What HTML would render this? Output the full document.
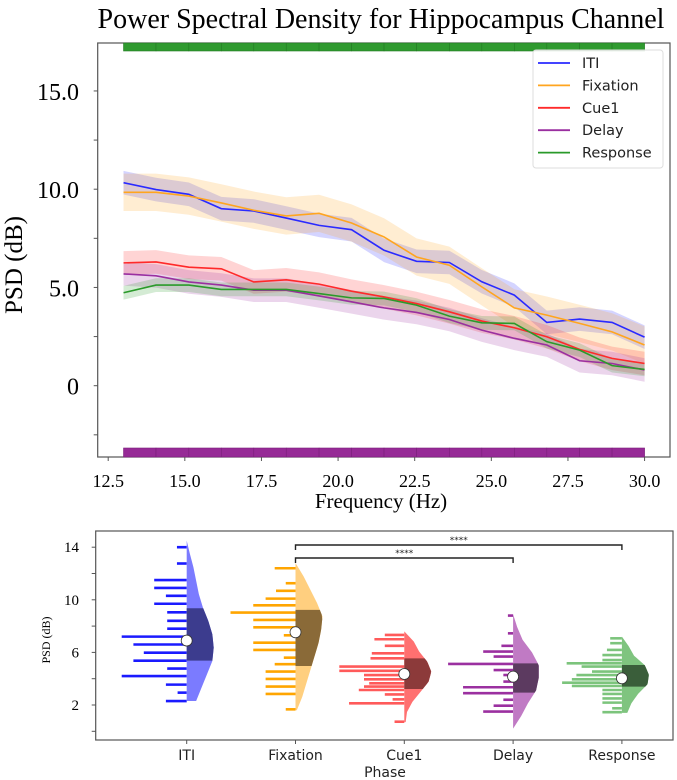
<!DOCTYPE html>
<html><head><meta charset="utf-8"><style>
html,body{margin:0;padding:0;background:#fff;}
svg{display:block;}
</style></head><body>
<svg id="root" width="677" height="780" viewBox="0 0 677 780" xmlns="http://www.w3.org/2000/svg">
<text x="381" y="28" text-anchor="middle" font-family="Liberation Serif, serif" font-size="28">Power Spectral Density for Hippocampus Channel</text>
<g id="topchart"></g>
<g id="botchart"></g>
</svg>
<script>
// ---------- Top chart data ----------
const freqs = [13.0,14.06,15.13,16.19,17.25,18.31,19.38,20.44,21.5,22.56,23.63,24.69,25.75,26.81,27.88,28.94,30.0];
const seriesNames = ['ITI','Fixation','Cue1','Delay','Response'];
const itiVals = [10.33,9.98,9.74,9.01,8.89,8.53,8.16,7.94,6.89,6.33,6.27,5.29,4.61,3.22,3.39,3.22,2.47];
const fixVals = [9.84,9.84,9.65,9.30,8.93,8.64,8.77,8.28,7.57,6.55,6.13,5.03,3.96,3.59,3.17,2.74,2.07];
const cueVals = [6.25,6.30,6.03,5.95,5.28,5.39,5.17,4.81,4.52,4.18,3.76,3.29,2.95,2.49,1.85,1.39,1.13];
const delayVals = [5.69,5.59,5.28,5.12,4.86,4.86,4.57,4.27,3.96,3.73,3.37,2.83,2.41,2.07,1.27,1.13,0.80];
const respVals = [4.73,5.12,5.12,4.90,4.90,4.90,4.69,4.47,4.44,4.10,3.54,3.20,3.17,2.24,1.81,1.02,0.83];
const bandHalf = [0.6,0.95,0.6,0.6,0.35];
const xTicks = [12.5,15.0,17.5,20.0,22.5,25.0,27.5,30.0];
const yTicks = [-2.5,0,2.5,5,7.5,10,12.5,15];
const yTickLabels = {'0':'0','5':'5.0','10':'10.0','15':'15.0'};

// ---------- Bottom chart data ----------
const phases = ['ITI','Fixation','Cue1','Delay','Response'];
const medians = [6.9,7.53,4.36,4.16,4.03];
const q1s = [5.37,4.97,3.22,2.94,3.40];
const q3s = [9.36,9.23,5.55,5.17,5.04];
const kdeLo = [2.3,1.6,0.7,0.2,1.4];
const kdeHi = [14.5,12.8,7.6,8.9,7.2];
const kdeITI = [0.35,0.55,0.75,0.95,1.0,0.95,0.8,0.6,0.45,0.35,0.25,0.12,0.0];
const kdeFix = [0.05,0.25,0.4,0.55,0.7,0.85,0.95,1.0,0.8,0.55,0.3,0.0];
const kdeCue = [0.05,0.1,0.3,0.6,0.9,1.0,0.85,0.55,0.35,0.0];
const kdeDelay = [0.0,0.3,0.55,0.85,0.95,0.95,0.7,0.35,0.15,0.0];
const kdeResp = [0.2,0.35,0.6,0.95,1.0,0.85,0.45,0.25,0.0];
const rainITI = [14,12.76,11.5,10.9,10.3,9.7,9.05,8.4,7.8,7.2,6.6,5.98,5.37,4.77,4.2,3.55,2.94,2.3];
const rainITIw = [0.15,0.15,0.5,0.5,0.32,0.5,0.3,0.3,0.3,1.0,0.82,0.66,0.82,0.3,1.0,0.32,0.14,0.32];
const rainFix = [12.4,11.26,10.68,10.09,9.58,9.03,8.47,7.91,7.3,6.74,6.19,5.6,5.1,4.54,3.98,3.4,2.84,1.67];
const rainFixw = [0.32,0.15,0.3,0.46,0.65,1.0,0.65,0.65,0.18,0.65,0.65,0.18,0.32,0.46,0.46,0.46,0.46,0.15];
const rainCue = [7.33,7.0,6.5,5.93,5.55,4.92,4.6,4.28,3.95,3.65,3.4,3.14,2.8,2.43,2.13,0.73];
const rainCuew = [0.3,0.46,0.3,0.5,0.52,1.0,1.0,0.62,0.62,0.54,0.62,0.7,0.3,0.18,0.85,0.15];
const rainDelay = [8.8,7.45,6.5,6.06,5.68,5.12,4.66,4.28,3.78,3.35,2.9,2.4,1.95,1.5];
const rainDelayw = [0.08,0.08,0.18,0.46,0.3,1.0,0.3,0.15,0.15,0.77,0.77,0.15,0.3,0.46];
const rainResp = [7.07,6.7,6.19,5.8,5.42,5.17,4.92,4.54,4.28,3.95,3.7,3.45,3.14,2.84,2.5,2.18,1.75,1.45];
const rainRespw = [0.18,0.18,0.23,0.3,0.3,0.85,0.62,0.46,0.7,0.77,0.92,0.77,0.3,0.3,0.3,0.3,0.15,0.3];
const sigPairs = [[1,4,'****'],[1,3,'****']];
const botYTicks = [0,2,4,6,8,10,12,14];
const botYLabels = ['','2','','6','','10','','14'];

const NS='http://www.w3.org/2000/svg';
function mk(parent,tag,attrs){const e=document.createElementNS(NS,tag);for(const k in attrs)e.setAttribute(k,attrs[k]);parent.appendChild(e);return e;}

// ===== Top chart =====
const topG=document.getElementById('topchart');
const L=97.7,R=670,T=43,B=457;
const xs=f=>108.2+(f-12.5)*30.65;
const ys=v=>385.7-v*19.65;
const colors=['#2a2aff','#ffa51f','#ff2a2a','#9a2fa0','#2a9a2a'];
const allVals=[itiVals,fixVals,cueVals,delayVals,respVals];

let el=mk(topG,'rect',{x:L,y:T,width:R-L,height:B-T,fill:'#fff',stroke:'#555','stroke-width':1.2});



for(let i=0;i<freqs.length-1;i++){
  el=mk(topG,'rect',{x:xs(freqs[i]),y:T,width:xs(freqs[i+1])-xs(freqs[i]),height:8,fill:'#2f9a2f',stroke:'#237a23','stroke-width':0.6});
  
  
  el=mk(topG,'rect',{x:xs(freqs[i]),y:B-9,width:xs(freqs[i+1])-xs(freqs[i]),height:9,fill:'#962a96',stroke:'#7a1f7a','stroke-width':0.6});
  
  
}

allVals.forEach((vals,si)=>{
  let up=vals.map((v,i)=>xs(freqs[i])+','+ys(v+bandHalf[si]));
  let dn=vals.map((v,i)=>xs(freqs[i])+','+ys(v-bandHalf[si])).reverse();
  const p=mk(topG,'polygon',{points:up.concat(dn).join(' '),fill:colors[si],'fill-opacity':0.2,stroke:'none'});
  
  
});
allVals.forEach((vals,si)=>{
  const p=mk(topG,'polyline',{points:vals.map((v,i)=>xs(freqs[i])+','+ys(v)).join(' '),fill:'none',stroke:colors[si],'stroke-width':1.6});
  
  
});

xTicks.forEach(t=>{
  mk(topG,'line',{x1:xs(t),x2:xs(t),y1:B,y2:B+4,stroke:'#555'});
  const tx=mk(topG,'text',{x:xs(t),y:487,'text-anchor':'middle','font-family':'Liberation Serif, serif','font-size':18});
  tx.textContent=t.toFixed(1);
  
  
});
yTicks.forEach(t=>{
  mk(topG,'line',{x1:L-4,x2:L,y1:ys(t),y2:ys(t),stroke:'#555'});
  const lab=yTickLabels[String(t)];
  if(lab){
    const tx=mk(topG,'text',{x:79,y:ys(t)+9,'text-anchor':'end','font-family':'Liberation Serif, serif','font-size':24});
    tx.textContent=lab;
    
    
  }
});
el=mk(topG,'text',{x:381,y:508,'text-anchor':'middle','font-family':'Liberation Serif, serif','font-size':21});
el.textContent='Frequency (Hz)';


el=mk(topG,'text',{x:0,y:0,'text-anchor':'middle','font-family':'Liberation Serif, serif','font-size':25,transform:'translate(22,265) rotate(-90)'});
el.textContent='PSD (dB)';



const lg=mk(topG,'g',{});


mk(lg,'rect',{x:533,y:50,width:130,height:118,rx:3,fill:'#fff','fill-opacity':0.85,stroke:'#ddd'});
seriesNames.forEach((n,i)=>{
  const yy=63+i*22.4;
  const g=mk(lg,'g',{});
  
  
  mk(g,'line',{x1:538,x2:570,y1:yy,y2:yy,stroke:colors[i],'stroke-width':1.8});
  const t=mk(g,'text',{x:582,y:yy+5,'font-family':'DejaVu Sans, sans-serif','font-size':14.5,fill:'#222'});
  t.textContent=n;
});

// ===== Bottom chart =====
const botG=document.getElementById('botchart');
const bL=95.7,bR=673,bT=531,bB=740;
const by=v=>705-(v-2)*13.15;
const bx=i=>186.7+i*108.8;
const vCol=['#7b7bff','#ffcf7f','#ff7070','#c07ac4','#7fc47f'];
const boxCol=['#3c3c8e','#8a6a38','#8c3a3a','#5c3a60','#3a5e3a'];
const rainCol=['#1a1aff','#ffa500','#ff5a5a','#9b30a0','#7cc47c'];
const kdes=[kdeITI,kdeFix,kdeCue,kdeDelay,kdeResp];
const rains=[rainITI,rainFix,rainCue,rainDelay,rainResp];
const rainWs=[rainITIw,rainFixw,rainCuew,rainDelayw,rainRespw];
const maxW=27, maxRain=65;

el=mk(botG,'rect',{x:bL,y:bT,width:bR-bL,height:bB-bT,fill:'#fff',stroke:'#555','stroke-width':1.2});



phases.forEach((ph,i)=>{
  const cx=bx(i);
  const g=mk(botG,'g',{});
  
  
  rains[i].forEach((v,j)=>{
    const ln=mk(g,'line',{x1:cx-rainWs[i][j]*maxRain,x2:cx,y1:by(v),y2:by(v),stroke:rainCol[i],'stroke-width':2.6});
    
    
  });
  const k=kdes[i],n=k.length,lo=kdeLo[i],hi=kdeHi[i];
  const vv=k.map((d,j)=>lo+(hi-lo)*j/(n-1));
  const pts=[cx+','+by(lo)];
  k.forEach((d,j)=>pts.push((cx+d*maxW)+','+by(vv[j])));
  pts.push(cx+','+by(hi));
  const vi=mk(g,'polygon',{points:pts.join(' '),fill:vCol[i],stroke:'none'});
  
  
  const interp=v=>{const t=(v-lo)/(hi-lo)*(n-1);const a=Math.max(0,Math.min(n-2,Math.floor(t)));const f=t-a;return k[a]*(1-f)+k[a+1]*f;};
  const bp=[cx+','+by(q1s[i])];
  const steps=12;
  for(let s=0;s<=steps;s++){const v=q1s[i]+(q3s[i]-q1s[i])*s/steps;bp.push((cx+interp(v)*maxW)+','+by(v));}
  bp.push(cx+','+by(q3s[i]));
  const bxp=mk(g,'polygon',{points:bp.join(' '),fill:boxCol[i],stroke:'none'});
  
  
  const c=mk(g,'circle',{cx:cx,cy:by(medians[i]),r:5.5,fill:'#fff',stroke:'#333','stroke-width':0.8});
  
  
  mk(botG,'line',{x1:cx,x2:cx,y1:bB,y2:bB+4,stroke:'#555'});
  const tx=mk(botG,'text',{x:cx,y:760,'text-anchor':'middle','font-family':'DejaVu Sans, sans-serif','font-size':14,fill:'#222'});
  tx.textContent=ph;
  
  
});

botYTicks.forEach((t,i)=>{
  mk(botG,'line',{x1:bL-4,x2:bL,y1:by(t),y2:by(t),stroke:'#555'});
  if(botYLabels[i]){
    const tx=mk(botG,'text',{x:79,y:by(t)+5,'text-anchor':'end','font-family':'Liberation Serif, serif','font-size':15});
    tx.textContent=botYLabels[i];
    
    
  }
});
el=mk(botG,'text',{x:0,y:0,'text-anchor':'middle','font-family':'Liberation Serif, serif','font-size':12,transform:'translate(50,640) rotate(-90)'});
el.textContent='PSD (dB)';


el=mk(botG,'text',{x:385,y:777,'text-anchor':'middle','font-family':'DejaVu Sans, sans-serif','font-size':14,fill:'#222'});
el.textContent='Phase';



const brY=[545,558];
sigPairs.forEach((p,i)=>{
  const x1=bx(p[0]),x2=bx(p[1]),yy=brY[i];
  const g=mk(botG,'g',{});
  
  
  mk(g,'polyline',{points:`${x1},${yy+5} ${x1},${yy} ${x2},${yy} ${x2},${yy+5}`,fill:'none',stroke:'#222','stroke-width':1.4});
  const t=mk(g,'text',{x:(x1+x2)/2,y:yy-2,'text-anchor':'middle','font-family':'DejaVu Sans, sans-serif','font-size':9,fill:'#222'});
  t.textContent=p[2];
});
</script>
</body></html>
